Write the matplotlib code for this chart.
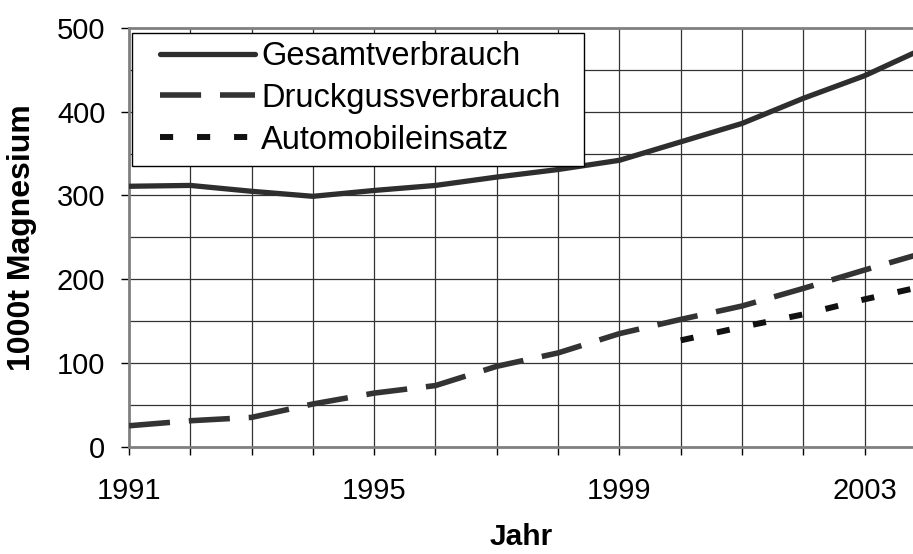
import numpy as np
import matplotlib.pyplot as plt
from matplotlib.patches import Rectangle

plt.rcParams['font.family'] = ['Liberation Sans', 'DejaVu Sans']

# Daten
jahre = [1991, 1992, 1993, 1994, 1995, 1996, 1997, 1998, 1999, 2000, 2001, 2002, 2003, 2003.8]
gesamt = [311, 312, 305, 299, 306, 312, 322, 331, 342, 364, 386, 416, 443, 470]
druckguss = [25, 31, 35, 51, 64, 73, 96, 112, 135, 152, 168, 189, 211, 228]
jahre_auto = [2000, 2001, 2002, 2003, 2003.8]
automobil = [127, 143, 158, 176, 189]

W, H = 913, 554
x0, y0, y1 = 129, 446.7, 28   # Achsenrand in Pixel
fig = plt.figure(figsize=(W/100, H/100), dpi=100)
ax = fig.add_axes([x0/W, 1 - y0/H, 1 - x0/W, (y0 - y1)/H])

ax.plot(jahre, gesamt, color='#2e2e2e', lw=3.8, solid_capstyle='round',
        label='Gesamtverbrauch', zorder=3)
ax.plot(jahre, druckguss, color='#333333', lw=4, dashes=(7.4, 3.4),
        dash_capstyle='butt', label='Druckgussverbrauch', zorder=3)
ax.plot(jahre_auto, automobil, color='#111111', lw=4.3, dashes=(2.2, 4.0),
        dash_capstyle='butt', label='Automobileinsatz', zorder=3)

ax.set_xlim(1991, 2003.79)
ax.set_ylim(0, 500)

ax.set_xticks(range(1991, 2004))
ax.set_xticklabels([str(j) if (j - 1991) % 4 == 0 else '' for j in range(1991, 2004)])
ax.set_yticks(range(0, 501, 100))
ax.set_yticks(range(50, 500, 100), minor=True)
ax.tick_params(axis='y', which='minor', length=0)

ax.grid(True, which='major', color='#333333', lw=0.9)
ax.grid(True, which='minor', axis='y', color='#333333', lw=0.9)
ax.set_axisbelow(True)

ax.tick_params(axis='both', which='major', direction='out', length=6, width=1,
               color='black', labelsize=21)
ax.tick_params(axis='x', pad=16)
ax.tick_params(axis='y', pad=11)

for s in ['top', 'left', 'bottom']:
    ax.spines[s].set_color('#808080')
    ax.spines[s].set_linewidth(2)
ax.spines['right'].set_visible(False)

ax.set_ylabel('1000t Magnesium', fontsize=23, fontweight='bold', labelpad=14)
ax.set_xlabel('Jahr', fontsize=21.5, fontweight='bold', labelpad=13)

# Legendenrahmen (Pixel 132..584 x 33..166)
aw, ah = W - x0, y0 - y1
ax.add_patch(Rectangle(((132 - x0)/aw, (y0 - 166)/ah), (584 - 132)/aw, (166 - 33)/ah,
                       transform=ax.transAxes, facecolor='white', edgecolor='black',
                       lw=1, zorder=4))
leg = ax.legend(loc='upper left', bbox_to_anchor=((160 - x0)/aw, (y0 - 41)/ah),
                fontsize=23.5, frameon=False, handlelength=2.9, handletextpad=0.2,
                borderpad=0, labelspacing=0.33, borderaxespad=0)
leg.set_zorder(5)

fig.savefig('out.png', dpi=100)
